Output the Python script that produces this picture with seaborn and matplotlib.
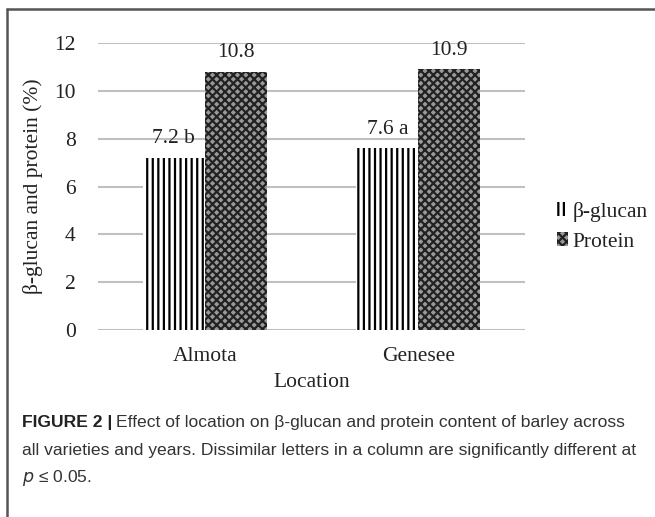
import pandas as pd
import numpy as np
import matplotlib
matplotlib.use("Agg")
import matplotlib.pyplot as plt
import seaborn as sns
from matplotlib.patches import Patch

# values
locations = ["Almota", "Genesee"]
components = ["β-glucan", "Protein"]
beta_glucan = [7.2, 7.6]
protein = [10.8, 10.9]
beta_letters = ["b", "a"]
y_ticks = [0, 2, 4, 6, 8, 10, 12]

df = pd.DataFrame({
    "Location": locations * 2,
    "Component": [components[0]] * 2 + [components[1]] * 2,
    "value": beta_glucan + protein,
})

sns.set_style("white")
plt.rcParams["font.family"] = ["Liberation Serif", "DejaVu Serif"]
plt.rcParams["hatch.linewidth"] = 1.6

fig = plt.figure(figsize=(6.55, 5.17), dpi=100)
ax = fig.add_axes([0.1496, 0.3617, 0.652, 0.5551])

sns.barplot(data=df, x="Location", y="value", hue="Component", hue_order=components,
            width=0.58, gap=0, ax=ax, legend=False, saturation=1)

styles = [dict(fc="white", ec="black", hatch="|||"),
          dict(fc="#999999", ec="#222222", hatch="xxxx")]
for cont, st in zip(ax.containers, styles):
    for p in cont:
        p.set_facecolor(st["fc"])
        p.set_edgecolor(st["ec"])
        p.set_hatch(st["hatch"])
        p.set_linewidth(0)

ax.bar_label(ax.containers[0], labels=[f"{v} {l}" for v, l in zip(beta_glucan, beta_letters)],
             padding=7, fontsize=15.5, color="#222222")
ax.bar_label(ax.containers[1], labels=[f"{v}" for v in protein],
             padding=7, fontsize=15.5, color="#222222")

ax.set_ylim(0, 12)
ax.set_xlim(-0.5, 1.5)
ax.set_yticks(y_ticks)
ax.yaxis.grid(True, color="#c0c0c0", linewidth=1.5)
ax.set_axisbelow(True)
for s in ax.spines.values():
    s.set_visible(False)
ax.tick_params(axis="both", length=0, labelsize=15.5, colors="#222222", pad=12)
ax.tick_params(axis="y", pad=16)
ax.set_xlabel("Location", fontsize=15.5, color="#222222", labelpad=5)
ax.set_ylabel("β-glucan and protein (%)", fontsize=15.5, color="#222222", labelpad=8)

handles = [Patch(facecolor=st["fc"], edgecolor=st["ec"], hatch=st["hatch"], linewidth=0)
           for st in styles]
leg = ax.legend(handles, components, loc="center left", bbox_to_anchor=(1.03, 0.36),
                frameon=False, fontsize=15.5, handlelength=0.5, handleheight=0.6,
                handletextpad=0.2, labelspacing=0.5)
for t in leg.get_texts():
    t.set_color("#222222")

# frame lines of the figure box
fig.add_artist(plt.Line2D([7 / 655, 7 / 655], [0, 1 - 9 / 517], color="#555555", lw=1.8))
fig.add_artist(plt.Line2D([7 / 655, 1], [1 - 9 / 517, 1 - 9 / 517], color="#555555", lw=1.8))

# caption
cap_font = ["Liberation Sans", "DejaVu Sans"]
cap_size = 12.6
bold = fig.text(22 / 655, 1 - 422 / 517, "FIGURE 2 |", fontsize=cap_size, fontweight="bold",
                family=cap_font, color="#222222", va="center")
fig.canvas.draw()
bb = bold.get_window_extent()
fig.text((bb.x1 + 4) / 655, 1 - 422 / 517,
         "Effect of location on β-glucan and protein content of barley across",
         fontsize=cap_size, family=cap_font, color="#333333", va="center")
fig.text(22 / 655, 1 - 450 / 517,
         "all varieties and years. Dissimilar letters in a column are significantly different at",
         fontsize=cap_size, family=cap_font, color="#333333", va="center")
fig.text(22 / 655, 1 - 478 / 517, r"$p$ ≤ 0.05.", fontsize=cap_size, family=cap_font,
         color="#333333", va="center")

fig.savefig("out.png", dpi=100)
